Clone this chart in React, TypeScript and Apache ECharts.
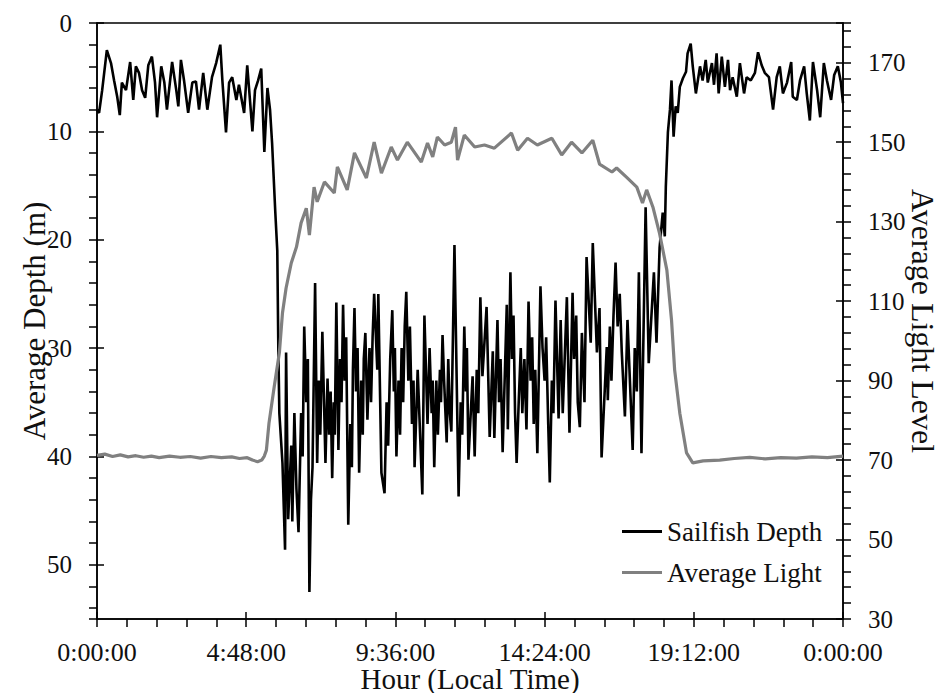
import React, { useEffect, useRef } from "react";
import * as echarts from "echarts";

const FONT = "serif";
const INK = "#101010";

const xTickLabels = ["0:00:00", "4:48:00", "9:36:00", "14:24:00", "19:12:00", "0:00:00"];
const seriesNames = ["Sailfish Depth", "Average Light"];

// [minute of day, depth (m)]
const depthSamples: [number, number][] = [
  [0, 8.0], [4, 8.3], [10, 6.2], [19, 2.5], [27, 3.7], [33, 5.3], [39, 6.8], [44, 8.5], [48, 5.5], [56, 6.2],
  [64, 3.6], [70, 7.1], [75, 4.0], [81, 4.6], [87, 6.2], [93, 6.9], [99, 3.9], [106, 3.1], [112, 5.5], [116, 8.7],
  [124, 4.0], [130, 5.5], [135, 8.0], [145, 3.6], [153, 6.2], [157, 7.7], [162, 3.4], [168, 5.3], [176, 8.3], [184, 5.5],
  [191, 5.4], [197, 8.0], [205, 4.6], [213, 8.0], [222, 5.0], [230, 3.7], [238, 2.0], [242, 5.3], [249, 10.1], [255, 5.5],
  [261, 5.0], [269, 7.1], [274, 5.7], [284, 8.3], [290, 3.9], [300, 10.0], [305, 6.2], [311, 5.3], [317, 4.2], [323, 11.9],
  [329, 6.0], [334, 8.0], [338, 11.1], [344, 17.3], [348, 21], [350, 30], [352, 36], [358, 40.6],
  [363, 48.6], [365, 30.4], [369, 45.8], [375, 39], [377, 46], [381, 36], [385, 43], [389, 47], [394, 36], [397, 40],
  [400, 28], [404, 35], [407, 31], [410, 52.5], [413, 44], [416, 41], [421, 24], [425, 40.6], [428, 33], [431, 38],
  [435, 28.5], [441, 40.6], [445, 32.8], [448, 38], [451, 34], [454, 42], [457, 35], [459, 38], [462, 25.8], [466, 39.4],
  [469, 31], [472, 35], [475, 26], [478, 33], [481, 29], [485, 46.3], [489, 37], [492, 41], [494, 32], [497, 26.3],
  [500, 34], [503, 30], [506, 41.5], [510, 33], [513, 38], [515, 31], [518, 28.6], [522, 36.6], [526, 30], [529, 35],
  [532, 29], [535, 25], [541, 32], [543, 25], [549, 41.5], [555, 43.4], [559, 35], [562, 39], [566, 31], [570, 26.5],
  [573, 34], [575, 30], [578, 40], [582, 33], [585, 38], [588, 30], [591, 35], [594, 28], [597, 24.8], [601, 33],
  [604, 28], [608, 37], [611, 33], [613, 41], [619, 32], [628, 43.5], [632, 27], [638, 37], [642, 30], [646, 36],
  [648, 33], [651, 41], [655, 33], [658, 38], [662, 32], [664, 35], [667, 28.8], [670, 33], [675, 38.7], [678, 31],
  [681, 36], [684, 37.7], [690, 20.5], [698, 43.7], [702, 35], [705, 38], [709, 28], [712, 34], [714, 30], [717, 40.3],
  [725, 32.6], [729, 40], [733, 32], [736, 36], [740, 25.3], [744, 32.6], [752, 26.2], [758, 38.2], [764, 30.3], [767, 38.3],
  [773, 27.4], [776, 35], [779, 31], [783, 39.6], [791, 26], [793, 37.5], [798, 23], [801, 31], [804, 27], [807, 36],
  [810, 40.6], [814, 35], [818, 30], [821, 36], [825, 31], [829, 37.5], [833, 25.7], [837, 33], [840, 29], [843, 37],
  [846, 32], [850, 39.7], [856, 24.3], [860, 30], [864, 33], [867, 29], [871, 37], [874, 42.4], [878, 33], [881, 36],
  [885, 25.6], [891, 36.5], [895, 27.4], [899, 36], [907, 25.3], [912, 37.8], [918, 24.9], [921, 31], [925, 27], [928, 35],
  [932, 37.3], [936, 28.6], [941, 35], [945, 21.6], [953, 29.5], [957, 20.3], [965, 30.4], [970, 26.3], [974, 40.1], [984, 29.9],
  [986, 34.8], [990, 28], [993, 33], [997, 27], [1001, 22.1], [1005, 28], [1009, 25], [1013, 30.4], [1019, 36.3], [1024, 27.4],
  [1034, 39.4], [1038, 30], [1042, 34], [1046, 23], [1051, 39.7], [1059, 17], [1065, 31.4], [1075, 23], [1080, 29.5], [1086, 20.7],
  [1092, 17.5], [1096, 19.7], [1098, 15.1], [1102, 10.1], [1106, 8], [1109, 5.3], [1113, 10.5], [1117, 7.7], [1121, 8.3], [1125, 5.9],
  [1131, 5.1], [1137, 4.5], [1140, 2.8], [1146, 1.9], [1150, 4.0], [1156, 6.5], [1164, 4.0], [1169, 5.3], [1175, 3.4], [1179, 5.5],
  [1187, 3.7], [1191, 5.7], [1196, 2.8], [1200, 6.5], [1206, 3.1], [1212, 5.9], [1218, 3.4], [1222, 6.2], [1227, 5.0], [1235, 6.8],
  [1241, 3.7], [1249, 6.5], [1254, 5.0], [1262, 5.3], [1270, 4.6], [1276, 2.7], [1283, 3.9], [1289, 4.6], [1297, 5.0], [1305, 8.0],
  [1312, 5.0], [1318, 4.0], [1324, 6.5], [1332, 5.5], [1340, 3.6], [1343, 6.8], [1351, 7.1], [1357, 5.3], [1365, 4.0], [1370, 6.5],
  [1376, 9.0], [1382, 3.6], [1390, 6.2], [1396, 8.7], [1403, 3.7], [1409, 5.3], [1417, 7.1], [1423, 4.8], [1430, 4.0], [1436, 5.5],
  [1440, 7.4],
];

// [minute of day, light level]
const lightSamples: [number, number][] = [
  [0, 71.2], [15, 71.5], [30, 70.9], [45, 71.3], [60, 70.8], [75, 71.1], [90, 70.7], [105, 71.0], [120, 70.6], [140, 71.0],
  [160, 70.7], [180, 70.9], [200, 70.5], [220, 70.9], [240, 70.6], [260, 70.8], [275, 70.4], [290, 70.6], [300, 70.0], [310, 69.6],
  [318, 70.0], [323, 71.0], [327, 72.5], [332, 79.3], [342, 88.4], [352, 97], [358, 107], [365, 113.3], [375, 119.6], [385, 123.6],
  [394, 129.7], [404, 133.4], [410, 126.6], [419, 138.7], [425, 135], [439, 140], [458, 137.2], [464, 143.8], [483, 138], [497, 147.3],
  [520, 141], [535, 150], [549, 142.2], [568, 148.8], [580, 145.5], [599, 150], [626, 145], [638, 149.8], [648, 146.3], [657, 151.3],
  [671, 149.3], [684, 150], [692, 153.8], [696, 145.5], [709, 151.8], [729, 148.8], [748, 149.3], [767, 148.5], [800, 152.3], [812, 148],
  [831, 151], [850, 149.3], [878, 151], [897, 146.8], [916, 150], [936, 147.3], [957, 150.5], [970, 144.5], [994, 142.5], [1003, 143.5],
  [1022, 141.2], [1042, 138.7], [1053, 134.7], [1061, 138], [1073, 133.7], [1086, 127], [1100, 117.8], [1109, 105.2], [1115, 92.7], [1125, 81.8],
  [1138, 71.8], [1150, 69.3], [1170, 69.8], [1202, 70], [1230, 70.4], [1260, 70.7], [1290, 70.3], [1320, 70.6], [1350, 70.5], [1380, 70.8],
  [1410, 70.6], [1440, 71],
];

const fontCss = `#root svg text { font-family: "Liberation Serif", "Times New Roman", serif !important; }`;

export default function App() {
  const ref = useRef<HTMLDivElement>(null);
  useEffect(() => {
    const chart = echarts.init(ref.current!, null, { renderer: "svg" });
    const line = { color: "#000", width: 1.5 };
    chart.setOption({
      animation: false,
      textStyle: { fontFamily: FONT },
      grid: {
        left: 97, right: 96, top: 23, bottom: 74,
        outerBoundsMode: "none",
        show: true, borderColor: "#000", borderWidth: 1.5,
      },
      legend: {
        orient: "vertical",
        left: 622,
        top: 518,
        padding: 0,
        itemGap: 14,
        itemWidth: 40,
        itemHeight: 3,
        icon: "rect",
        textStyle: { fontFamily: FONT, fontSize: 27, color: INK },
        data: seriesNames,
      },
      xAxis: [
        {
          type: "value", min: 0, max: 1440, interval: 288, position: "bottom",
          axisLine: { show: true, onZero: false, lineStyle: line },
          axisTick: { show: true, inside: true, length: 7, lineStyle: line },
          axisLabel: {
            fontFamily: FONT, fontSize: 26, color: INK, margin: 8, padding: [12, 0, 0, 0],
            formatter: (v: number) => xTickLabels[Math.round(v / 288)],
          },
          splitLine: { show: false },
          name: "Hour (Local Time)", nameLocation: "middle", nameGap: 45, nameMoveOverlap: false,
          nameTextStyle: { fontFamily: FONT, fontSize: 29, color: INK },
        },
        {
          type: "value", min: 0, max: 1440, interval: 57.6, position: "bottom",
          axisLine: { show: false, onZero: false },
          axisTick: { show: true, inside: false, length: 8, lineStyle: line },
          axisLabel: { show: false },
          splitLine: { show: false },
        },
      ],
      yAxis: [
        {
          type: "value", min: 0, max: 55, interval: 10, inverse: true, position: "left",
          axisLine: { show: true, onZero: false, lineStyle: line },
          axisTick: { show: true, inside: true, length: 7, lineStyle: line },
          axisLabel: { fontFamily: FONT, fontSize: 25, color: INK, margin: 8, padding: [0, 17, 0, 0], showMaxLabel: false },
          splitLine: { show: false },
          name: "Average Depth (m)", nameLocation: "middle", nameRotate: 90, nameGap: 47, nameMoveOverlap: false,
          nameTextStyle: { fontFamily: FONT, fontSize: 31, color: INK },
        },
        {
          type: "value", min: 0, max: 55, interval: 2, inverse: true, position: "left",
          axisLine: { show: false, onZero: false },
          axisTick: { show: true, inside: false, length: 8, lineStyle: line },
          axisLabel: { show: false },
          splitLine: { show: false },
        },
        {
          type: "value", min: 30, max: 180, interval: 20, position: "right",
          axisLine: { show: true, onZero: false, lineStyle: line },
          axisTick: { show: true, inside: true, length: 7, lineStyle: line },
          axisLabel: { show: false },
          splitLine: { show: false },
        },
        {
          type: "value", min: 30, max: 180, interval: 4, position: "right",
          axisLine: { show: false, onZero: false },
          axisTick: { show: true, inside: false, length: 8, lineStyle: line },
          axisLabel: { show: false },
          splitLine: { show: false },
        },
        {
          type: "value", min: 30, max: 180, interval: 20, position: "right", offset: 17,
          axisLine: { show: false, onZero: false },
          axisTick: { show: false },
          axisLabel: { fontFamily: FONT, fontSize: 25, color: INK, margin: 8, showMaxLabel: false },
          splitLine: { show: false },
          name: "Average Light Level", nameLocation: "middle", nameRotate: -90, nameGap: 47, nameMoveOverlap: false,
          nameTextStyle: { fontFamily: FONT, fontSize: 32, color: INK },
        },
      ],
      series: [
        {
          name: seriesNames[0], type: "line", xAxisIndex: 0, yAxisIndex: 0, data: depthSamples,
          symbol: "none", showSymbol: false, lineStyle: { color: "#000", width: 2.6 }, itemStyle: { color: "#000" },
        },
        {
          name: seriesNames[1], type: "line", xAxisIndex: 0, yAxisIndex: 2, data: lightSamples,
          symbol: "none", showSymbol: false, lineStyle: { color: "#808080", width: 3.2 }, itemStyle: { color: "#808080" },
        },
      ],
    });
    return () => chart.dispose();
  }, []);
  return (
    <>
      <style>{fontCss}</style>
      <div ref={ref} style={{ position: "absolute", left: 0, top: 0, width: 939, height: 693 }} />
    </>
  );
}
